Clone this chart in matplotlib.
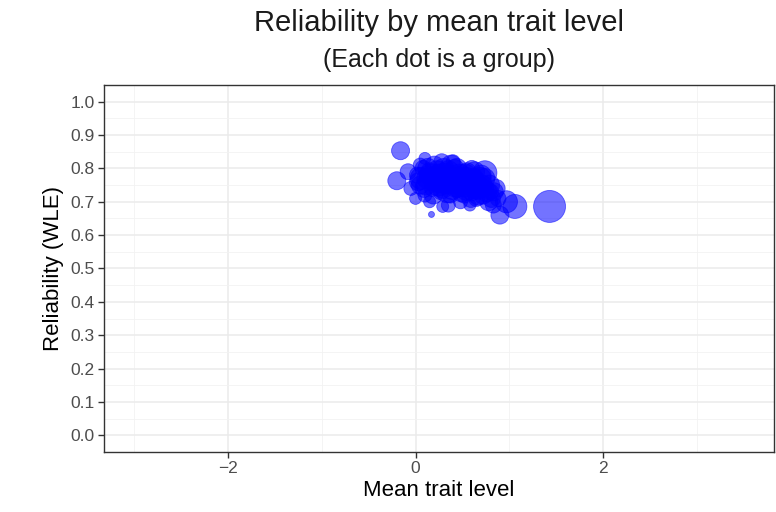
import matplotlib.pyplot as plt
import numpy as np

plt.rcParams["font.family"] = ["Liberation Sans", "DejaVu Sans"]

# group means, reliabilities and group sizes
mean_trait = [
    1.43, -0.16, -0.20, 0.17, 0.29, 0.00, 1.06, 0.90, 0.74, 0.97,
    0.02, 0.05, 0.08, 0.10, 0.12, 0.15, 0.18, 0.20, 0.22, 0.25,
    0.27, 0.30, 0.32, 0.35, 0.37, 0.40, 0.42, 0.45, 0.47, 0.50,
    0.52, 0.55, 0.57, 0.60, 0.62, 0.65, 0.68, 0.70, 0.72, 0.75,
    0.78, 0.80, 0.83, 0.15, 0.05, -0.08, -0.05, 0.35, 0.48, 0.58,
    0.28, 0.40, 0.60, 0.88, 0.10, 0.33, 0.55,
    0.06, 0.11, 0.16, 0.21, 0.26, 0.31, 0.36, 0.41, 0.46, 0.51,
    0.56, 0.61, 0.66, 0.71, 0.76, 0.81, 0.13, 0.23, 0.38, 0.44,
    0.53, 0.63, 0.69, 0.74, 0.19, 0.29, 0.49, 0.59, 0.84, 0.03,
    0.24, 0.34, 0.43, 0.54, 0.64, 0.79, 0.09, 0.39, 0.67, 0.86,
]
reliability = [
    0.686, 0.853, 0.763, 0.662, 0.686, 0.710, 0.686, 0.660, 0.787, 0.700,
    0.78, 0.75, 0.80, 0.72, 0.77, 0.79, 0.74, 0.81, 0.76, 0.78,
    0.73, 0.80, 0.75, 0.79, 0.72, 0.77, 0.80, 0.74, 0.78, 0.76,
    0.72, 0.79, 0.75, 0.73, 0.77, 0.71, 0.75, 0.78, 0.72, 0.74,
    0.70, 0.73, 0.69, 0.70, 0.81, 0.79, 0.74, 0.69, 0.70, 0.69,
    0.82, 0.82, 0.80, 0.71, 0.83, 0.77, 0.74,
    0.77, 0.75, 0.78, 0.77, 0.76, 0.78, 0.77, 0.76, 0.77, 0.75,
    0.76, 0.76, 0.74, 0.75, 0.73, 0.71, 0.80, 0.79, 0.81, 0.80,
    0.78, 0.79, 0.77, 0.77, 0.72, 0.74, 0.73, 0.71, 0.73, 0.76,
    0.75, 0.73, 0.75, 0.77, 0.74, 0.75, 0.74, 0.74, 0.72, 0.74,
]
group_n = [
    400, 127, 127, 14, 56, 56, 225, 127, 225, 190,
    100, 127, 100, 77, 156, 127, 100, 127, 156, 190,
    100, 156, 127, 190, 100, 156, 127, 127, 190, 156,
    100, 127, 156, 127, 156, 100, 127, 156, 127, 100,
    127, 100, 100, 56, 77, 100, 77, 77, 77, 56,
    100, 77, 100, 100, 56, 225, 225,
    190, 156, 190, 225, 190, 225, 190, 225, 190, 225,
    190, 225, 190, 156, 156, 127, 156, 190, 156, 156,
    190, 156, 190, 156, 127, 156, 156, 127, 127, 127,
    190, 190, 225, 190, 156, 156, 127, 190, 156, 127,
]

fig = plt.figure(figsize=(7.76, 5.12), dpi=100)
ax = fig.add_axes([0.134, 0.1172, 0.8634, 0.7168])

# radius in px ~ 0.8 * sqrt(n); convert to points^2 for scatter
sizes = (np.sqrt(group_n) * 0.8 * 2 * 0.72) ** 2
ax.scatter(mean_trait, reliability, s=sizes, color="#0000FF", alpha=0.55,
           edgecolors="#0000FF", linewidths=0.6, zorder=3)

ax.set_xlim(-3.325, 3.825)
ax.set_ylim(-0.05, 1.05)
ax.set_xticks([-2, 0, 2])
ax.set_xticklabels(["\u22122", "0", "2"])
ax.set_xticks([-3, -1, 1, 3], minor=True)
ax.set_yticks(np.arange(0, 1.01, 0.1))
ax.set_yticklabels([f"{v:.1f}" for v in np.arange(0, 1.01, 0.1)])
ax.set_yticks(np.arange(0.05, 1.0, 0.1), minor=True)

ax.grid(which="major", color="#EBEBEB", linewidth=1.1, zorder=0)
ax.grid(which="minor", color="#F2F2F2", linewidth=0.6, zorder=0)
ax.set_axisbelow(True)

for s in ax.spines.values():
    s.set_color("#333333")
    s.set_linewidth(1.0)
ax.tick_params(which="major", length=4, width=1.0, color="#333333",
               labelcolor="#4D4D4D", labelsize=12.5, pad=2.5)
ax.tick_params(which="minor", length=0)

ax.set_xlabel("Mean trait level", fontsize=16, labelpad=3)
ax.set_ylabel("Reliability (WLE)", fontsize=16, labelpad=5)

fig.text(0.566, 0.955, "Reliability by mean trait level", fontsize=21,
         ha="center", va="center", color="#1A1A1A")
fig.text(0.566, 0.882, "(Each dot is a group)", fontsize=18,
         ha="center", va="center", color="#1A1A1A")

fig.savefig("out.png", dpi=100)
